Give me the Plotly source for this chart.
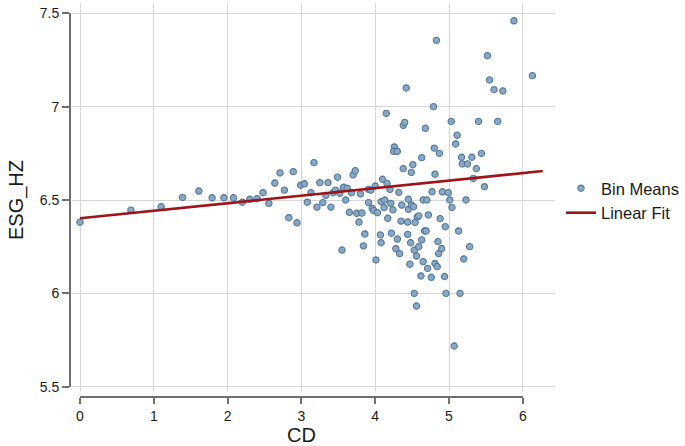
import plotly.graph_objects as go

# ---- data ----
cd = [0.00, 0.69, 1.10, 1.39, 1.61, 1.79, 1.95, 2.08, 2.20, 2.30, 2.40, 2.48, 2.56, 2.64, 2.71,
      2.77, 2.83, 2.89, 2.94, 2.99, 3.04, 3.08, 3.13, 3.17, 3.21, 3.25, 3.29, 3.33, 3.36, 3.40,
      3.43, 3.46, 3.49, 3.52, 3.55, 3.57, 3.60, 3.62, 3.65, 3.68, 3.70, 3.73, 3.75, 3.78, 3.80,
      3.82, 3.84, 3.86, 3.91, 3.91, 3.94, 3.96, 3.98, 4.00, 4.01, 4.03, 4.07, 4.08, 4.08, 4.10,
      4.12, 4.13, 4.15, 4.16, 4.17, 4.20, 4.21, 4.22, 4.24, 4.26, 4.25, 4.30, 4.28, 4.30, 4.32,
      4.33, 4.35, 4.36, 4.38, 4.40, 4.38, 4.42, 4.44, 4.45, 4.45, 4.44, 4.47, 4.48, 4.49, 4.49,
      4.51, 4.52, 4.53, 4.53, 4.54, 4.56, 4.56, 4.57, 4.59, 4.59, 4.62, 4.63, 4.63, 4.65, 4.65,
      4.67, 4.69, 4.68, 4.70, 4.71, 4.72, 4.76, 4.77, 4.79, 4.80, 4.81, 4.81, 4.83, 4.84, 4.85,
      4.86, 4.87, 4.88, 4.90, 4.91, 4.94, 4.95, 4.96, 4.99, 5.01, 5.03, 5.04, 5.07, 5.09, 5.11,
      5.13, 5.15, 5.17, 5.18, 5.20, 5.23, 5.25, 5.28, 5.31, 5.33, 5.37, 5.40, 5.44, 5.48, 5.52,
      5.55, 5.61, 5.66, 5.73, 5.88, 6.13]
esg_hz = [6.381, 6.446, 6.464, 6.514, 6.548, 6.512, 6.512, 6.512, 6.488, 6.504, 6.507, 6.539, 6.482, 6.591, 6.645,
          6.553, 6.405, 6.652, 6.378, 6.579, 6.587, 6.488, 6.539, 6.700, 6.462, 6.593, 6.486, 6.525, 6.593, 6.462,
          6.539, 6.553, 6.622, 6.536, 6.232, 6.568, 6.500, 6.563, 6.434, 6.539, 6.635, 6.657, 6.429, 6.382, 6.533,
          6.430, 6.254, 6.318, 6.557, 6.486, 6.553, 6.455, 6.443, 6.575, 6.179, 6.432, 6.313, 6.271, 6.491, 6.611,
          6.459, 6.500, 6.964, 6.589, 6.402, 6.557, 6.482, 6.322, 6.447, 6.784, 6.761, 6.761, 6.239, 6.291, 6.541,
          6.213, 6.387, 6.473, 6.900, 6.916, 6.668, 7.100, 6.316, 6.504, 6.450, 6.382, 6.156, 6.271, 6.473, 6.648,
          6.689, 6.464, 6.232, 6.000, 6.380, 6.200, 5.932, 6.410, 6.415, 6.250, 6.093, 6.286, 6.727, 6.500, 6.170,
          6.334, 6.334, 6.884, 6.500, 6.134, 6.420, 6.086, 6.544, 7.000, 6.778, 6.638, 6.160, 7.355, 6.143, 6.277,
          6.213, 6.750, 6.400, 6.240, 6.544, 6.090, 6.357, 6.000, 6.539, 6.500, 6.921, 6.460, 5.718, 6.800, 6.847,
          6.334, 6.000, 6.729, 6.693, 6.184, 6.500, 6.693, 6.250, 6.729, 6.616, 6.668, 6.921, 6.750, 6.571, 7.273,
          7.143, 7.091, 6.921, 7.084, 7.460, 7.166]

fit_cd = [0.0, 6.27]
fit_esg = [6.402, 6.655]

x_ticks = [0, 1, 2, 3, 4, 5, 6]
y_ticks = [5.5, 6, 6.5, 7, 7.5]
y_tick_text = ["5.5", "6", "6.5", "7", "7.5"]

# ---- layout geometry (pixels) ----
W, H = 685, 446
ML, MR, MT, MB = 70, 130, 3, 49
PW, PH = W - ML - MR, H - MT - MB
SX, SY = 73.8, 186.7            # px per data unit
X0_PX, Y75_PX = 80, 13.3        # pixel of x=0 and y=7.5
PLOT_L, PLOT_B = 72, 392        # grid area left / bottom (px)
AX_B = H - MB                   # pixel of x axis line

xr = [x_ticks[0] - (X0_PX - PLOT_L) / SX, x_ticks[0] + (W - MR - X0_PX) / SX]
ytop = y_ticks[-1] + (Y75_PX - MT) / SY
yr = [ytop - (PLOT_B - MT) / SY, ytop]

def fx(px):
    return (px - ML) / PW

def fy(py):
    return (AX_B - py) / PH

x2_dom = [fx(X0_PX), fx(X0_PX + (x_ticks[-1] - x_ticks[0]) * SX)]
y2_dom = [fy(Y75_PX + (y_ticks[-1] - y_ticks[0]) * SY), fy(Y75_PX)]

font = "Liberation Sans, Arial, sans-serif"
axis_gray = "#707070"

fig = go.Figure()
fig.add_trace(go.Scatter(
    x=cd, y=esg_hz, mode="markers", name="Bin Means",
    marker=dict(size=6.3, color="#89a8c3", line=dict(color="#52769a", width=1.1)),
))
fig.add_trace(go.Scatter(
    x=fit_cd, y=fit_esg, mode="lines", name="Linear Fit",
    line=dict(color="#9e1418", width=2.6),
))
# invisible trace to carry the offset axes
fig.add_trace(go.Scatter(
    x=[x_ticks[0], x_ticks[-1]], y=[y_ticks[0], y_ticks[-1]], xaxis="x2", yaxis="y2",
    mode="markers", marker=dict(opacity=0), showlegend=False, hoverinfo="skip",
))

fig.update_layout(
    width=W, height=H,
    margin=dict(l=ML, r=MR, t=MT, b=MB, autoexpand=False),
    paper_bgcolor="white", plot_bgcolor="rgba(0,0,0,0)",
    font=dict(family=font, color="#1a1a1a"),
    xaxis=dict(domain=[fx(PLOT_L), 1], range=xr, tickvals=x_ticks, showticklabels=False,
               ticks="", showgrid=True, gridcolor="#d6d6d6", gridwidth=1, zeroline=False,
               showline=False, automargin=False),
    yaxis=dict(domain=[fy(PLOT_B), 1], range=yr, tickvals=y_ticks, showticklabels=False,
               ticks="", showgrid=True, gridcolor="#d6d6d6", gridwidth=1, zeroline=False,
               showline=False, automargin=False),
    xaxis2=dict(domain=x2_dom, range=[x_ticks[0], x_ticks[-1]], anchor="free", position=0,
                tickvals=x_ticks, ticks="outside", ticklen=6, tickwidth=1.5, tickcolor=axis_gray,
                showline=True, linecolor=axis_gray, linewidth=2, showgrid=False, zeroline=False,
                automargin=False,
                tickfont=dict(size=14), title=dict(text="CD", font=dict(size=20), standoff=6)),
    yaxis2=dict(domain=y2_dom, range=[y_ticks[0], y_ticks[-1]], anchor="free", position=0,
                tickvals=y_ticks, ticktext=y_tick_text, ticks="outside", ticklen=7, tickwidth=1.5,
                tickcolor=axis_gray, showline=True, linecolor=axis_gray, linewidth=2,
                showgrid=False, zeroline=False, automargin=False, tickfont=dict(size=14),
                title=dict(text="ESG_HZ", font=dict(size=20), standoff=10)),
    legend=dict(x=fx(561), y=fy(171), xanchor="left", yanchor="top",
                font=dict(size=16.5), bgcolor="rgba(0,0,0,0)", tracegroupgap=0),
    showlegend=True,
)

fig.write_html("out.html", config={"displayModeBar": False},
               post_script="document.body.style.margin='0';document.body.style.padding='0';")
